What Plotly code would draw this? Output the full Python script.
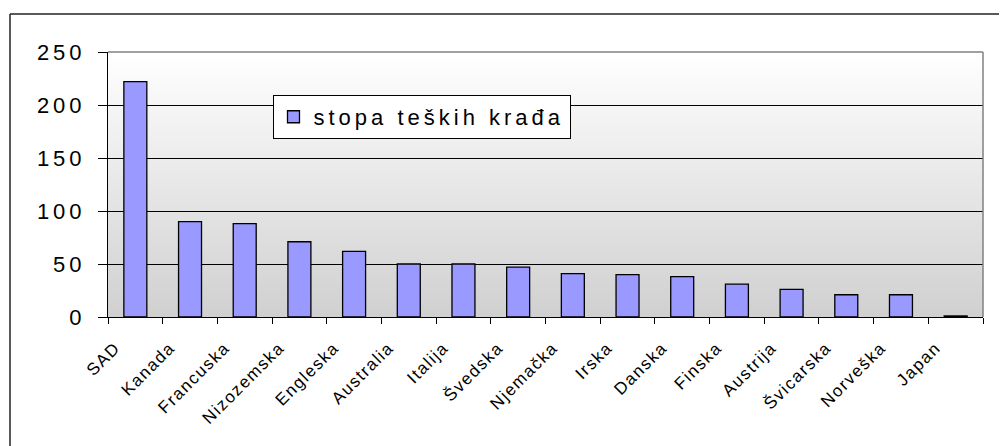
import base64
import plotly.graph_objects as go

countries = ["SAD", "Kanada", "Francuska", "Nizozemska", "Engleska", "Australia",
             "Italija", "Švedska", "Njemačka", "Irska", "Danska", "Finska",
             "Austrija", "Švicarska", "Norveška", "Japan"]
values = [222, 90, 88, 71, 62, 50, 50, 47, 41, 40, 38, 31, 26, 21, 21, 1]
series_name = "stopa teških krađa"
y_ticks = [0, 50, 100, 150, 200, 250]

FONT = "Liberation Sans, Arial, sans-serif"


def spaced(text, px):
    # Excel-like wide letter spacing
    return '<span style="letter-spacing:%spx">%s</span>' % (px, text)


# vertical grey gradient for the plot area (Excel style)
svg = ('<svg xmlns="http://www.w3.org/2000/svg" width="10" height="100" preserveAspectRatio="none">'
       '<defs><linearGradient id="g" x1="0" y1="0" x2="0" y2="1">'
       '<stop offset="0" stop-color="#ffffff"/><stop offset="1" stop-color="#d0d0d0"/>'
       '</linearGradient></defs><rect width="10" height="100" fill="url(#g)"/></svg>')
bg_src = "data:image/svg+xml;base64," + base64.b64encode(svg.encode()).decode()

trace = go.Bar(
    x=countries,
    y=values,
    name=spaced(series_name, 4),
    marker=dict(color="#9999ff", line=dict(color="#000000", width=1.3)),
    showlegend=True,
)

# the page body adds an 8px margin, so the figure is 8px smaller than the window
layout = go.Layout(
    width=999,
    height=438,
    margin=dict(l=100, r=24, t=44, b=129),
    paper_bgcolor="white",
    plot_bgcolor="rgba(0,0,0,0)",
    font=dict(family=FONT, color="#000000"),
    bargap=0.58,
    xaxis=dict(
        type="category",
        tickvals=countries,
        ticktext=[spaced(c, 1.5) for c in countries],
        tickangle=-45,
        tickfont=dict(size=17),
        ticks="outside",
        tickson="boundaries",
        ticklen=6,
        tickcolor="#000000",
        ticklabelstandoff=13,
        ticklabelshift=-20,
        showline=True,
        linecolor="#000000",
        linewidth=1,
        showgrid=False,
        automargin=False,
    ),
    yaxis=dict(
        range=[0, 250],
        tickvals=y_ticks,
        ticktext=[spaced(v, 4) for v in y_ticks],
        tickfont=dict(size=22),
        ticks="outside",
        ticklen=9,
        tickcolor="#000000",
        ticklabelstandoff=8,
        showline=True,
        linecolor="#000000",
        linewidth=1,
        showgrid=True,
        gridcolor="#000000",
        gridwidth=1,
        zeroline=False,
        automargin=False,
    ),
    legend=dict(
        x=0.188, y=0.838, xanchor="left", yanchor="top",
        bgcolor="white", bordercolor="#000000", borderwidth=1,
        font=dict(size=22),
    ),
    images=[dict(source=bg_src, xref="paper", yref="paper", x=0, y=1,
                 sizex=1, sizey=1, sizing="stretch", layer="below",
                 xanchor="left", yanchor="top")],
    shapes=[
        # plot area top / right border
        dict(type="line", xref="paper", yref="paper", x0=0, x1=1, y0=1, y1=1,
             line=dict(color="#808080", width=1.5)),
        dict(type="line", xref="paper", yref="paper", x0=1, x1=1, y0=0, y1=1,
             line=dict(color="#808080", width=1.5)),
        # chart area border (left / top visible)
        dict(type="line", xref="paper", yref="paper", x0=-0.112, x1=1.05, y0=1.1434, y1=1.1434,
             line=dict(color="#222222", width=1.5)),
        dict(type="line", xref="paper", yref="paper", x0=-0.112, x1=-0.112, y0=-0.6, y1=1.1434,
             line=dict(color="#222222", width=1.5)),
    ],
)

fig = go.Figure(data=[trace], layout=layout)
fig.write_html("out.html")
